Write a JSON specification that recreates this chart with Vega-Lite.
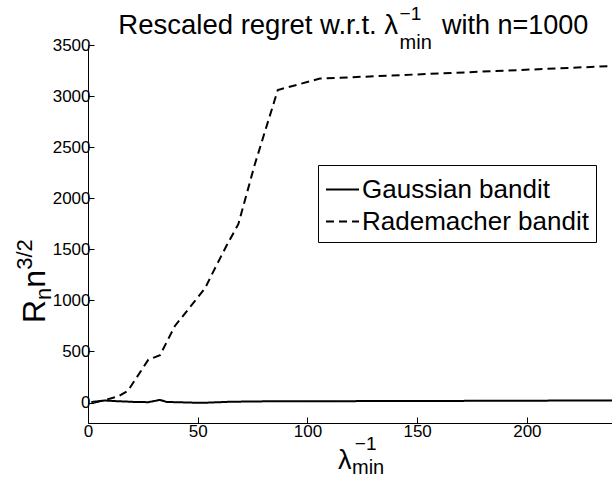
{
  "$schema": "https://vega.github.io/schema/vega-lite/v6.json",
  "width": 524,
  "height": 378,
  "autosize": {"type": "none"},
  "padding": {"left": 88, "top": 45, "right": 0, "bottom": 54},
  "background": "white",
  "config": {
    "view": {"stroke": null},
    "font": "Liberation Sans",
    "text": {"font": "Liberation Sans", "color": "black", "baseline": "alphabetic"},
    "axis": {
      "grid": false,
      "domainColor": "black",
      "domainWidth": 1,
      "tickColor": "black",
      "tickWidth": 1,
      "tickSize": -6,
      "labelColor": "black",
      "labelFont": "Liberation Sans",
      "labelFontSize": 17,
      "labelFlush": false,
      "labelOverlap": false,
      "format": "d",
      "title": null
    }
  },
  "datasets": {
    "curves": [
      {"series": "Gaussian bandit", "x": 1.5, "y": 5},
      {"series": "Gaussian bandit", "x": 7.7, "y": 20},
      {"series": "Gaussian bandit", "x": 13.8, "y": 13},
      {"series": "Gaussian bandit", "x": 21.4, "y": 6},
      {"series": "Gaussian bandit", "x": 27.5, "y": 4},
      {"series": "Gaussian bandit", "x": 32.8, "y": 26},
      {"series": "Gaussian bandit", "x": 35.9, "y": 6},
      {"series": "Gaussian bandit", "x": 51.8, "y": -3},
      {"series": "Gaussian bandit", "x": 65, "y": 8},
      {"series": "Gaussian bandit", "x": 80.7, "y": 12},
      {"series": "Gaussian bandit", "x": 100, "y": 13},
      {"series": "Gaussian bandit", "x": 140, "y": 15},
      {"series": "Gaussian bandit", "x": 180, "y": 17},
      {"series": "Gaussian bandit", "x": 238.8, "y": 21},
      {"series": "Rademacher bandit", "x": 3, "y": 0},
      {"series": "Rademacher bandit", "x": 7.7, "y": 25},
      {"series": "Rademacher bandit", "x": 13.8, "y": 60},
      {"series": "Rademacher bandit", "x": 18.2, "y": 115},
      {"series": "Rademacher bandit", "x": 27.5, "y": 420},
      {"series": "Rademacher bandit", "x": 32.8, "y": 463},
      {"series": "Rademacher bandit", "x": 39.6, "y": 750},
      {"series": "Rademacher bandit", "x": 53.3, "y": 1117},
      {"series": "Rademacher bandit", "x": 57.1, "y": 1282},
      {"series": "Rademacher bandit", "x": 63, "y": 1530},
      {"series": "Rademacher bandit", "x": 68.5, "y": 1746},
      {"series": "Rademacher bandit", "x": 76, "y": 2330},
      {"series": "Rademacher bandit", "x": 86.5, "y": 3060},
      {"series": "Rademacher bandit", "x": 105.7, "y": 3171},
      {"series": "Rademacher bandit", "x": 238.8, "y": 3294}
    ],
    "one": [{}]
  },
  "layer": [
    {
      "data": {"name": "curves"},
      "mark": {"type": "line", "color": "black", "strokeWidth": 2, "clip": true},
      "encoding": {
        "x": {
          "field": "x", "type": "quantitative",
          "scale": {"domain": [0, 238.8], "nice": false, "zero": false},
          "axis": {"values": [0, 50, 100, 150, 200], "labelPadding": 6}
        },
        "y": {
          "field": "y", "type": "quantitative",
          "scale": {"domain": [-200, 3500], "nice": false, "zero": false},
          "axis": {"values": [0, 500, 1000, 1500, 2000, 2500, 3000, 3500], "labelPadding": 4}
        },
        "strokeDash": {
          "field": "series", "type": "nominal",
          "scale": {"domain": ["Gaussian bandit", "Rademacher bandit"], "range": [[1, 0], [8, 5]]},
          "legend": {
            "orient": "none",
            "legendX": 230,
            "legendY": 120,
            "title": null,
            "strokeColor": "black",
            "fillColor": "white",
            "padding": 7,
            "symbolType": "stroke",
            "symbolSize": 1089,
            "symbolStrokeColor": "black",
            "symbolStrokeWidth": 2,
            "labelFont": "Liberation Sans",
            "labelFontSize": 26,
            "labelColor": "black",
            "labelOffset": 2,
            "rowPadding": 1,
            "labelLimit": 400
          }
        }
      }
    },
    {
      "data": {"name": "one"},
      "mark": {"type": "text", "align": "right", "fontSize": 27.5, "text": "Rescaled regret w.r.t. λ"},
      "encoding": {"x": {"datum": 141.3}, "y": {"datum": 3608}}
    },
    {
      "data": {"name": "one"},
      "mark": {"type": "text", "align": "left", "fontSize": 19, "text": "−1"},
      "encoding": {"x": {"datum": 142.0}, "y": {"datum": 3745}}
    },
    {
      "data": {"name": "one"},
      "mark": {"type": "text", "align": "left", "fontSize": 20, "text": "min"},
      "encoding": {"x": {"datum": 142.0}, "y": {"datum": 3461}}
    },
    {
      "data": {"name": "one"},
      "mark": {"type": "text", "align": "left", "fontSize": 27, "text": "with n=1000"},
      "encoding": {"x": {"datum": 161.3}, "y": {"datum": 3608}}
    },
    {
      "data": {"name": "one"},
      "mark": {"type": "text", "align": "left", "fontSize": 27, "text": "λ"},
      "encoding": {"x": {"datum": 113.9}, "y": {"datum": -650}}
    },
    {
      "data": {"name": "one"},
      "mark": {"type": "text", "align": "left", "fontSize": 19, "text": "−1"},
      "encoding": {"x": {"datum": 121.6}, "y": {"datum": -464}}
    },
    {
      "data": {"name": "one"},
      "mark": {"type": "text", "align": "left", "fontSize": 20, "text": "min"},
      "encoding": {"x": {"datum": 120.3}, "y": {"datum": -700}}
    },
    {
      "data": {"name": "one"},
      "mark": {"type": "text", "align": "left", "angle": 270, "fontSize": 32, "text": "R"},
      "encoding": {"x": {"datum": -19.6}, "y": {"datum": 779}}
    },
    {
      "data": {"name": "one"},
      "mark": {"type": "text", "align": "left", "angle": 270, "fontSize": 22, "text": "n"},
      "encoding": {"x": {"datum": -16.9}, "y": {"datum": 1005}}
    },
    {
      "data": {"name": "one"},
      "mark": {"type": "text", "align": "left", "angle": 270, "fontSize": 32, "text": "n"},
      "encoding": {"x": {"datum": -19.6}, "y": {"datum": 1124}}
    },
    {
      "data": {"name": "one"},
      "mark": {"type": "text", "align": "left", "angle": 270, "fontSize": 22, "text": "3/2"},
      "encoding": {"x": {"datum": -25.5}, "y": {"datum": 1299}}
    }
  ]
}
